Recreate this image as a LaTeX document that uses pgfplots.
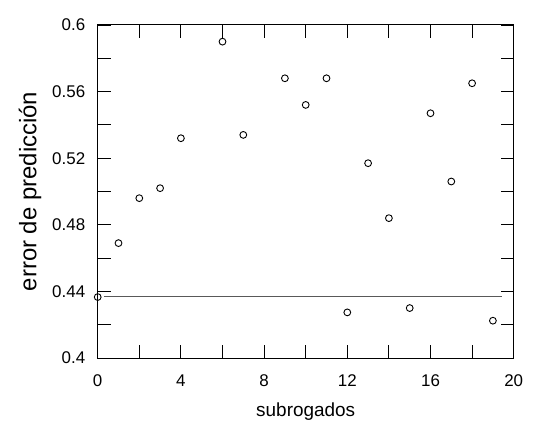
\documentclass[border=0pt]{standalone}
\usepackage{pgfplots}
\pgfplotsset{compat=1.18}
\usepackage{fontspec}
\setmainfont{Liberation Sans}

\begin{document}
\begin{tikzpicture}
\begin{axis}[
    scale only axis,
    width=416bp, height=333bp,
    xmin=0, xmax=20, ymin=0.4, ymax=0.6,
    xtick={0,4,...,20},
    minor xtick={2,6,...,18},
    ytick={0.4,0.44,0.48,0.52,0.56,0.6},
    yticklabels={0.4,0.44,0.48,0.52,0.56,0.6},
    minor ytick={0.42,0.46,0.50,0.54,0.58},
    tick align=inside,
    major tick length=13bp, minor tick length=13bp,
    every tick/.style={black, line width=0.9bp},
    axis line style={black, line width=1bp},
    /pgf/number format/assume math mode=true,
    ticklabel style={font=\fontsize{17}{19}\selectfont},
    xticklabel style={yshift=-13bp},
    yticklabel style={xshift=-9bp},
    xlabel={subrogados},
    ylabel={error de predicción},
    xlabel style={font=\fontsize{19}{22}\selectfont, at={(axis description cs:0.5,-0.162)}, anchor=center},
    ylabel style={font=\fontsize{24}{28}\selectfont, at={(axis description cs:-0.1626,0.5)}, anchor=center},
    clip=false,
]
% linea de referencia
\addplot[color=black!65, line width=0.8bp, forget plot] coordinates {(0.3,0.4368) (19.45,0.4368)};
\addplot[only marks, mark=o, mark size=3.4bp, mark options={black, line width=0.9bp, fill=white}] coordinates {
    (0,0.4366) (1,0.469) (2,0.496) (3,0.502) (4,0.532)
    (6,0.590) (7,0.534) (9,0.568) (10,0.552) (11,0.568)
    (12,0.4274) (13,0.517) (14,0.484) (15,0.430) (16,0.547)
    (17,0.506) (18,0.565) (19,0.4224)
};
\end{axis}
\path (-97.7bp,-82bp) rectangle (440.3bp,358bp);
\end{tikzpicture}
\end{document}
